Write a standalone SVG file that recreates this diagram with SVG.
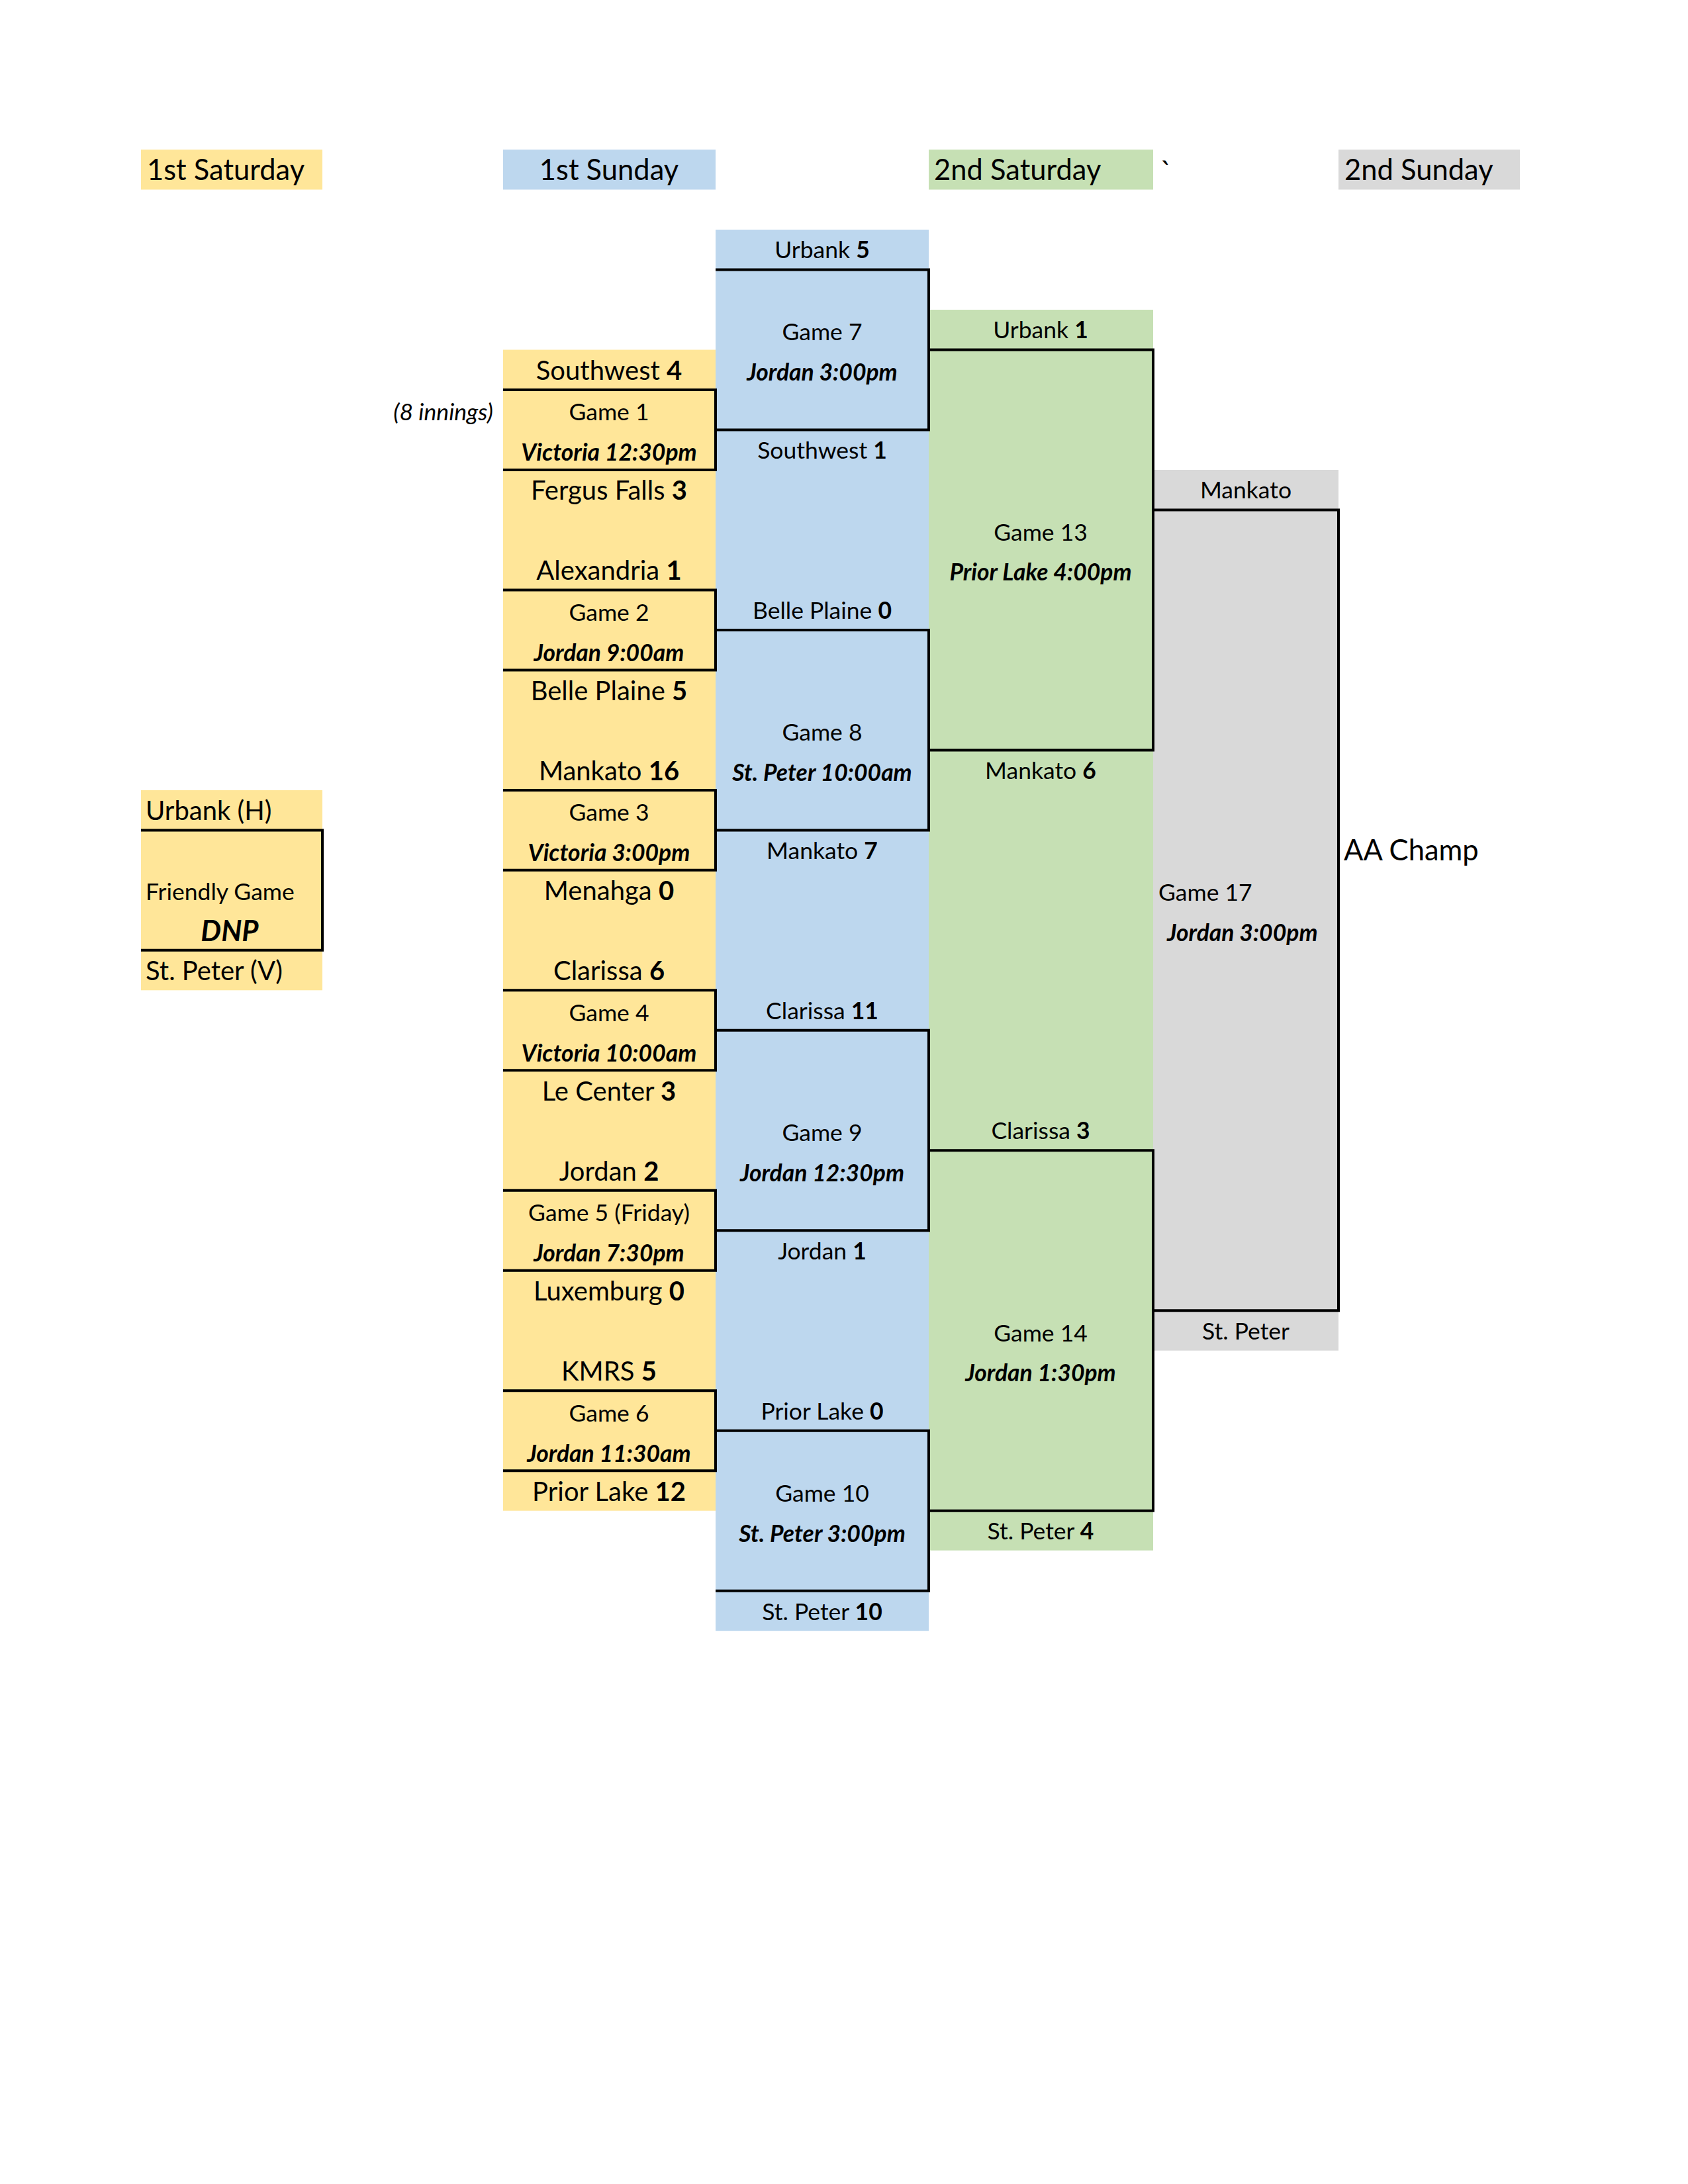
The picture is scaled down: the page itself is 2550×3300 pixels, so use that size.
<svg xmlns="http://www.w3.org/2000/svg" width="2550" height="3300" viewBox="0 0 2550 3300">
<style>
text{font-family:Lato,"Carlito","Liberation Sans",sans-serif;fill:#000}
.c{text-anchor:middle}
.l{text-anchor:start}
.r{text-anchor:end}
.t{font-size:40px}
.g{font-size:35.5px}
.h{font-size:43.5px}
.bi{font-weight:bold;font-style:italic}
.it{font-style:italic}
.b{font-weight:bold}
.y{fill:#FFE699}.bl{fill:#BDD7EE}.gr{fill:#C6E0B4}.gy{fill:#D9D9D9}
.ln{fill:none;stroke:#000;stroke-width:4;stroke-linejoin:miter}
</style>
<rect width="2550" height="3300" fill="#fff"/>
<g id="backgrounds">
<rect class="y" x="213" y="226" width="274" height="60.5"/>
<rect class="bl" x="760" y="226" width="321" height="60.5"/>
<rect class="gr" x="1403" y="226" width="339" height="60.5"/>
<rect class="gy" x="2022" y="226" width="274" height="60.5"/>
<rect class="y" x="213" y="1194" width="274" height="302.3"/>
<rect class="y" x="760" y="528.5" width="321" height="1754.2"/>
<rect class="bl" x="1081" y="347" width="322" height="2117.2"/>
<rect class="gr" x="1403" y="468" width="339" height="1874.7"/>
<rect class="gy" x="1742" y="710" width="280" height="1330.7"/>
</g>
<g id="headers">
<text class="h l" x="222" y="272">1st Saturday</text>
<text class="h c" x="920" y="272">1st Sunday</text>
<text class="h l" x="1411" y="272">2nd Saturday</text>
<text class="h l" x="1753" y="275">`</text>
<text class="h l" x="2031" y="272">2nd Sunday</text>
</g>
<g id="connectors">
<path class="ln" d="M760,589 H1081 V710 H760"/>
<path class="ln" d="M760,891.4 H1081 V1012.4 H760"/>
<path class="ln" d="M760,1193.9 H1081 V1314.8 H760"/>
<path class="ln" d="M760,1496.3 H1081 V1617.3 H760"/>
<path class="ln" d="M760,1798.8 H1081 V1919.7 H760"/>
<path class="ln" d="M760,2101.2 H1081 V2222.2 H760"/>
<path class="ln" d="M213,1254.4 H487 V1435.8 H213"/>
<path class="ln" d="M1081,407.5 H1403 V649.5 H1081"/>
<path class="ln" d="M1081,951.9 H1403 V1254.4 H1081"/>
<path class="ln" d="M1081,1556.8 H1403 V1859.3 H1081"/>
<path class="ln" d="M1081,2161.7 H1403 V2403.7 H1081"/>
<path class="ln" d="M1403,528.5 H1742 V1133.4 H1403"/>
<path class="ln" d="M1403,1738.3 H1742 V2282.7 H1403"/>
<path class="ln" d="M1742,770.4 H2022 V1980.2 H1742"/>
</g>
<g id="friendly">
<text class="t l" x="220" y="1239">Urbank (H)</text>
<text class="g l" x="220" y="1360">Friendly Game</text>
<text class="h c bi" x="347" y="1422">DNP</text>
<text class="t l" x="220" y="1481">St. Peter (V)</text>
</g>
<g id="game1">
<text class="t c" x="920" y="574">Southwest <tspan class="b">4</tspan></text>
<text class="g it r" x="745" y="635">(8 innings)</text>
<text class="g c" x="920" y="635">Game 1</text>
<text class="g c bi" x="920" y="696">Victoria 12:30pm</text>
<text class="t c" x="920" y="755">Fergus Falls <tspan class="b">3</tspan></text>
</g>
<g id="game2">
<text class="t c" x="920" y="876">Alexandria <tspan class="b">1</tspan></text>
<text class="g c" x="920" y="938">Game 2</text>
<text class="g c bi" x="920" y="999">Jordan 9:00am</text>
<text class="t c" x="920" y="1058">Belle Plaine <tspan class="b">5</tspan></text>
</g>
<g id="game3">
<text class="t c" x="920" y="1179">Mankato <tspan class="b">16</tspan></text>
<text class="g c" x="920" y="1240">Game 3</text>
<text class="g c bi" x="920" y="1301">Victoria 3:00pm</text>
<text class="t c" x="920" y="1360">Menahga <tspan class="b">0</tspan></text>
</g>
<g id="game4">
<text class="t c" x="920" y="1481">Clarissa <tspan class="b">6</tspan></text>
<text class="g c" x="920" y="1543">Game 4</text>
<text class="g c bi" x="920" y="1604">Victoria 10:00am</text>
<text class="t c" x="920" y="1663">Le Center <tspan class="b">3</tspan></text>
</g>
<g id="game5">
<text class="t c" x="920" y="1784">Jordan <tspan class="b">2</tspan></text>
<text class="g c" x="920" y="1845">Game 5 (Friday)</text>
<text class="g c bi" x="920" y="1906">Jordan 7:30pm</text>
<text class="t c" x="920" y="1965">Luxemburg <tspan class="b">0</tspan></text>
</g>
<g id="game6">
<text class="t c" x="920" y="2086">KMRS <tspan class="b">5</tspan></text>
<text class="g c" x="920" y="2148">Game 6</text>
<text class="g c bi" x="920" y="2209">Jordan 11:30am</text>
<text class="t c" x="920" y="2268">Prior Lake <tspan class="b">12</tspan></text>
</g>
<g id="game7">
<text class="g c" x="1242" y="390">Urbank <tspan class="b">5</tspan></text>
<text class="g c" x="1242" y="514">Game 7</text>
<text class="g c bi" x="1242" y="575">Jordan 3:00pm</text>
<text class="g c" x="1242" y="693">Southwest <tspan class="b">1</tspan></text>
</g>
<g id="game8">
<text class="g c" x="1242" y="935">Belle Plaine <tspan class="b">0</tspan></text>
<text class="g c" x="1242" y="1119">Game 8</text>
<text class="g c bi" x="1242" y="1180">St. Peter 10:00am</text>
<text class="g c" x="1242" y="1298">Mankato <tspan class="b">7</tspan></text>
</g>
<g id="game9">
<text class="g c" x="1242" y="1540">Clarissa <tspan class="b">11</tspan></text>
<text class="g c" x="1242" y="1724">Game 9</text>
<text class="g c bi" x="1242" y="1785">Jordan 12:30pm</text>
<text class="g c" x="1242" y="1903">Jordan <tspan class="b">1</tspan></text>
</g>
<g id="game10">
<text class="g c" x="1242" y="2145">Prior Lake <tspan class="b">0</tspan></text>
<text class="g c" x="1242" y="2269">Game 10</text>
<text class="g c bi" x="1242" y="2330">St. Peter 3:00pm</text>
<text class="g c" x="1242" y="2448">St. Peter <tspan class="b">10</tspan></text>
</g>
<g id="game13">
<text class="g c" x="1572" y="511">Urbank <tspan class="b">1</tspan></text>
<text class="g c" x="1572" y="817">Game 13</text>
<text class="g c bi" x="1572" y="877">Prior Lake 4:00pm</text>
<text class="g c" x="1572" y="1177">Mankato <tspan class="b">6</tspan></text>
</g>
<g id="game14">
<text class="g c" x="1572" y="1721">Clarissa <tspan class="b">3</tspan></text>
<text class="g c" x="1572" y="2027">Game 14</text>
<text class="g c bi" x="1572" y="2087">Jordan 1:30pm</text>
<text class="g c" x="1572" y="2326">St. Peter <tspan class="b">4</tspan></text>
</g>
<g id="game17">
<text class="g c" x="1882" y="753">Mankato</text>
<text class="g l" x="1750" y="1361">Game 17</text>
<text class="g l bi" x="1763" y="1422">Jordan 3:00pm</text>
<text class="g c" x="1882" y="2024">St. Peter</text>
<text class="h l" x="2030" y="1300">AA Champ</text>
</g>
</svg>
